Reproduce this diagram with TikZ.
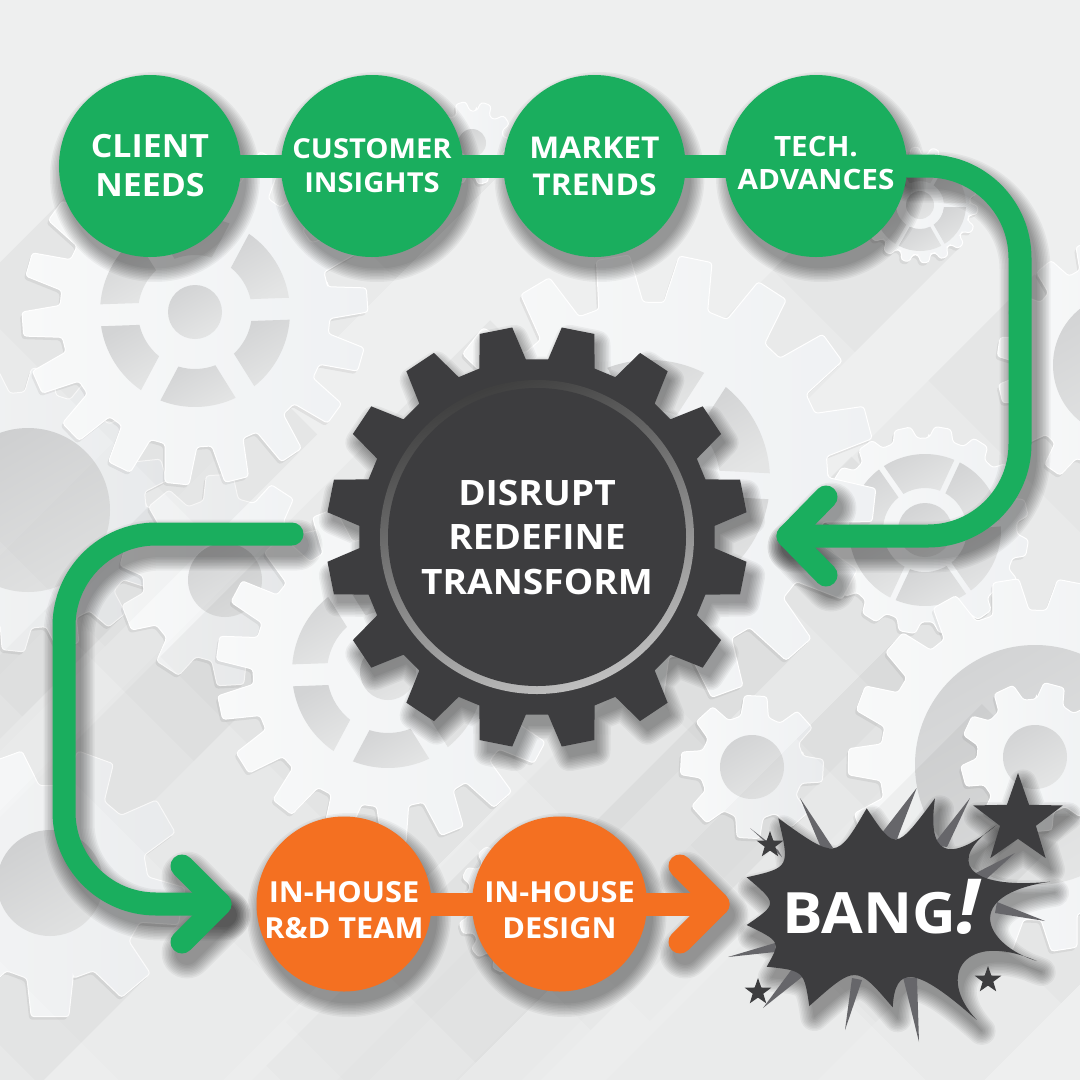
\documentclass[tikz,border=0pt]{standalone}
\usepackage{fontspec}
\setmainfont{Open Sans}[FakeStretch=1.06]
\usetikzlibrary{shapes.geometric}
\definecolor{flowgreen}{HTML}{1AAE5E}
\definecolor{floworange}{HTML}{F47021}
\definecolor{coaldark}{HTML}{3D3D3F}
\definecolor{spikegray}{HTML}{66666A}
\definecolor{gearlight}{HTML}{F8F9F9}
\definecolor{gearblue}{HTML}{EFF1F3}
\definecolor{holedark}{HTML}{D3D4D5}
\definecolor{holelight}{HTML}{E4E5E5}
\definecolor{paperlight}{HTML}{EEEFEF}
\pgfdeclarelayer{gears}
\pgfdeclarelayer{shade}
\pgfdeclarelayer{links}
\pgfsetlayers{gears,shade,links,main}
\tikzset{dot/.style={circle,inner sep=0pt,text=white,align=center},
	greendot/.style={dot,fill=flowgreen,minimum size=182pt},
	orangedot/.style={dot,fill=floworange,minimum size=175pt},
	tiny star/.style={star,star points=5,star point ratio=2.5,fill=coaldark,inner sep=0pt,minimum size=#1},
	flowline/.style={line width=23pt,line cap=round,line join=round},
	softdrop/.style={transform canvas={xshift=5pt,yshift=-11pt},black,line join=round,line cap=round},
	gearband/.style={black,opacity=#1},
	gearbody/.style={left color=gearlight,right color=gearblue,draw=white,line width=1pt,rounded corners=3pt},
	holefill/.style={left color=holedark,right color=holelight,shading angle=30}}
% tooth shape, as parts of the pitch
\def\tipr{.2}
\def\rootr{.34}
% #1 tip radius, #2 root radius, #3 teeth, #4 angle of the first tooth
\newcommand{\gearoutline}[4]{({#4-\rootr*360/#3}:#2)
  \foreach \k [evaluate=\k as \a using {#4+(\k-1)*360/#3}] in {1,...,#3} {
    -- ({\a-\rootr*360/#3}:#2) -- ({\a-\tipr*360/#3}:#1)
    -- ({\a+\tipr*360/#3}:#1) -- ({\a+\rootr*360/#3}:#2)
  } -- cycle}
% x, y, tip, root, teeth, angle, hole
\newcommand{\gearback}[7]{
  \begin{scope}[shift={(#1,#2)}]
    \foreach \len/\op in {800/.008,300/.012,150/.014} {
      \fill[gearband=\op] (45:#3) -- (225:#3) -- ([shift={(135:\len)}]225:#3) -- ([shift={(135:\len)}]45:#3) -- cycle;
    }
    \fill[black,opacity=.06,xshift=-2pt,yshift=-3pt,rounded corners=3pt] \gearoutline{#3}{#4}{#5}{#6};
    \shade[gearbody] \gearoutline{#3}{#4}{#5}{#6};
    \shade[holefill] (0,0) circle (#7);
  \end{scope}}
% x, y, outer, inner, spokes, angle, half spoke
\newcommand{\gearholes}[7]{
  \begin{scope}[shift={(#1,#2)}]
    \foreach \k [evaluate=\k as \a using {#6+\k*360/#5}] in {1,...,#5} {
      \pgfmathsetmacro{\ao}{\a+deg(#7/#3)}
      \pgfmathsetmacro{\bo}{\a+360/#5-deg(#7/#3)}
      \pgfmathsetmacro{\ai}{\a+deg(#7/#4)}
      \pgfmathsetmacro{\bi}{\a+360/#5-deg(#7/#4)}
      \shade[holefill] (\ao:#3) arc [start angle=\ao,end angle=\bo,radius=#3]
        -- (\bi:#4) arc [start angle=\bi,end angle=\ai,radius=#4] -- cycle;
    }
  \end{scope}}
% soft shadows, filled or along a line
\newcommand{\softfill}[1]{\foreach \w in {1,4,7,...,28} {
    \begin{scope}[transparency group,opacity=.045]
      \draw[softdrop,fill=black,line width=\w pt] #1;
    \end{scope}}}
\newcommand{\softline}[1]{\foreach \w in {24,27,30,...,51} {
    \begin{scope}[transparency group,opacity=.045]
      \draw[softdrop,line width=\w pt] #1;
    \end{scope}}}
\newcommand{\burstpath}{(778.3,818.3) .. controls (836.5,860) .. (866.7,808.3)
  .. controls (895.3,851.3) .. (935,798.3)
  .. controls (925,868) and (960,855) .. (996.7,825)
  .. controls (945,860) and (965,890) .. (1050,881.7)
  .. controls (960,895) and (985,945) .. (1036.7,961)
  .. controls (965,930) and (935,975) .. (976.7,1020)
  .. controls (915,965) and (895,965) .. (892.7,1007.3)
  .. controls (856,964.5) .. (809.3,1006)
  .. controls (804,970.7) .. (766.7,966.7)
  .. controls (781,941.6) .. (746.7,925)
  .. controls (777.8,903.7) .. (746.7,877.3)
  .. controls (790,867.5) .. (778.3,818.3) -- cycle}

\begin{document}
\begin{tikzpicture}[x=1pt,y=-1pt]
\useasboundingbox (0,0) rectangle (1080,1080);

\node [greendot,font=\bfseries\fontsize{32}{39}\selectfont] (client) at (150,166) {CLIENT\\NEEDS};
\node [greendot,font=\bfseries\fontsize{27.5}{34}\selectfont] (customer) at (372,166) {CUSTOMER\\INSIGHTS};
\node [greendot,font=\bfseries\fontsize{30}{37}\selectfont] (market) at (594.5,166) {MARKET\\TRENDS};
\node [greendot,font=\bfseries\fontsize{28}{33}\selectfont] (tech) at (816,166) {TECH.\\ADVANCES\rule[-6pt]{0pt}{0pt}};
\node [dot,fill=coaldark,minimum size=298pt,font=\bfseries\fontsize{35}{44.5}\selectfont] (hub) at (537,537) {DISRUPT\\REDEFINE\\TRANSFORM};
\node [orangedot,font=\bfseries\fontsize{29}{36}\selectfont] (rnd) at (344,904) {\rule{0pt}{34pt}IN-HOUSE\\R\&D TEAM};
\node [orangedot,font=\bfseries\fontsize{29}{36}\selectfont] (design) at (559.5,904) {\rule{0pt}{34pt}IN-HOUSE\\DESIGN};
\node [text=white,font=\bfseries\fontsize{57}{57}\selectfont] (bang) at (881,907) {BANG{\itshape\fontsize{76}{76}\selectfont !}};
\node [tiny star=94pt] (bigstar) at (1018,820) {};
\node [tiny star=28pt] (stara) at (770,845) {};
\node [tiny star=28pt] (starb) at (988,980) {};
\node [tiny star=28pt] (starc) at (758,992) {};

\coordinate (turnne) at (1020,166);
\coordinate (turnse) at (1020,536);
\coordinate (gearin) at (788,536);
\coordinate (gearinup) at (826,497);
\coordinate (gearindn) at (826,575);
\coordinate (gearout) at (292,534);
\coordinate (turnnw) at (64,534);
\coordinate (turnsw) at (64,904);
\coordinate (teamin) at (220,904);
\coordinate (teaminup) at (182,866);
\coordinate (teamindn) at (182,942);
\coordinate (bangin) at (718,904);
\coordinate (banginup) at (680,866);
\coordinate (bangindn) at (680,942);

\begin{pgfonlayer}{gears}
\fill [paperlight] (0,0) rectangle (1080,1080);
\gearback{28}{510}{142}{118}{16}{6}{82}
\gearback{1125}{365}{128}{105}{17}{-2.4}{72}
\gearback{472}{143}{42}{32}{10}{-70}{14}
\gearback{920}{205}{58}{50}{18}{5}{14}
\gearholes{920}{205}{46}{24}{6}{0}{2}
\gearback{530}{905}{73}{63}{16}{4}{20}
\gearback{925}{530}{104}{92}{16}{-80}{27}
\gearholes{925}{530}{76}{42}{6}{-5}{3}
\gearback{225}{580}{106}{82}{10}{15}{37}
\gearback{50}{883}{135}{98}{9}{90}{53}
\gearback{195}{312}{173}{135}{18}{-4}{27}
\gearholes{195}{312}{95}{57}{6}{-2}{11}
\gearback{650}{480}{226}{178}{17}{6.4}{30}
\gearholes{650}{480}{120}{70}{6}{3}{13}
\gearback{388}{672}{172}{135}{18}{8}{28}
\gearholes{388}{672}{96}{61}{6}{-2}{11}
\gearback{752}{767}{72}{52}{8}{3}{32}
\gearback{1035}{765}{187}{155}{18}{1}{120}
\gearback{1035}{757}{75}{58}{9}{-75}{32}
\end{pgfonlayer}

\begin{pgfonlayer}{shade}
% shadows of everything in front
\foreach \n/\r in {client/91,customer/91,market/91,tech/91,rnd/88,design/88} {
  \softfill{(\n) circle (\r)}
}
\def\tipr{.165}\def\rootr{.3}
\softfill{[shift={(hub)}] \gearoutline{211}{178}{16}{11.25}}
\softfill{\burstpath}
\softfill{(bigstar.outer point 1) -- (bigstar.inner point 1) -- (bigstar.outer point 2) -- (bigstar.inner point 2) -- (bigstar.outer point 3) -- (bigstar.inner point 3) -- (bigstar.outer point 4) -- (bigstar.inner point 4) -- (bigstar.outer point 5) -- (bigstar.inner point 5) -- cycle}
\softline{[rounded corners=92pt] (tech) -- (turnne) -- (turnse) -- (gearin)}
\softline{(gearinup) -- (gearin) -- (gearindn)}
\softline{[rounded corners=92pt] (gearout) -- (turnnw) -- (turnsw) -- (teamin)}
\softline{(teaminup) -- (teamin) -- (teamindn)}
\softline{(banginup) -- (bangin) -- (bangindn)}
\end{pgfonlayer}

\begin{pgfonlayer}{links}
\draw [flowline,flowgreen] (client) -- (customer) -- (market) -- (tech);
\draw [flowline,flowgreen,rounded corners=92pt] (tech) -- (turnne) -- (turnse) -- (gearin);
\draw [flowline,flowgreen] (gearinup) -- (gearin) -- (gearindn);
\draw [flowline,flowgreen,rounded corners=92pt] (gearout) -- (turnnw) -- (turnsw) -- (teamin);
\draw [flowline,flowgreen] (teaminup) -- (teamin) -- (teamindn);
\draw [flowline,floworange] (rnd) -- (design) -- (bangin);
\draw [flowline,floworange] (banginup) -- (bangin) -- (bangindn);
\fill [coaldark,shift={(hub)}] \gearoutline{211}{178}{16}{11.25};
\shade [left color=black!75,right color=black!25,shading angle=20] (hub) circle (157);
\fill [spikegray] (800,798) -- (822,850) -- (833,848) -- cycle;
\fill [spikegray] (916.7,788) -- (878,838) -- (897,839) -- cycle;
\fill [spikegray] (970,798) -- (933,845) -- (947,847) -- cycle;
\fill [spikegray] (1015,853) -- (972,875) -- (983,882) -- cycle;
\fill [spikegray] (1045,921) -- (997,902) -- (995,913) -- cycle;
\fill [spikegray] (845,1030) -- (852,978) -- (862,980) -- cycle;
\fill [spikegray] (919,1042) -- (903,977) -- (917,978) -- cycle;
\fill [spikegray] (763,1008) -- (795,965) -- (807,973) -- cycle;
\fill [spikegray] (728,957) -- (775,943) -- (775,952) -- cycle;
\fill [spikegray] (750,828) -- (782,857) -- (778,850) -- cycle;
\fill [coaldark] \burstpath;
\end{pgfonlayer}
\end{tikzpicture}
\end{document}
